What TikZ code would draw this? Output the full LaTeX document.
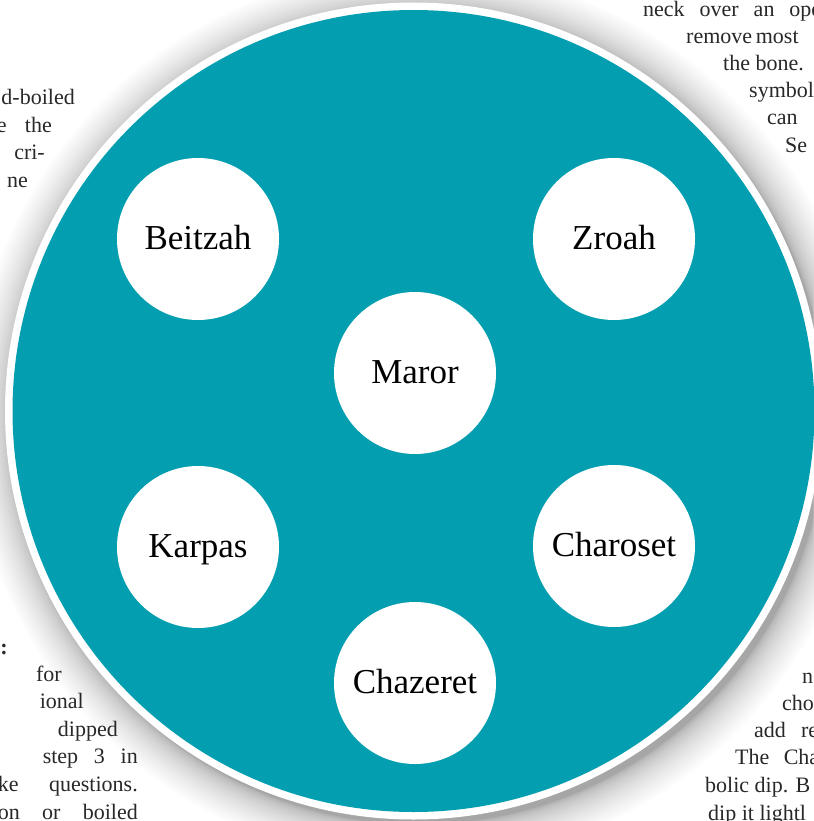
\documentclass[tikz,border=0pt]{standalone}
\usepackage{fontspec}
\setmainfont{Liberation Serif}
\definecolor{plateteal}{RGB}{3,158,175}
\definecolor{ink}{RGB}{40,40,40}
\begin{document}
\begin{tikzpicture}[x=1pt,y=-1pt,
  dish/.style={circle, fill=white, minimum size=162pt, inner sep=0pt},
  lbl/.style={font=\fontsize{35}{40}\selectfont, text=black, inner sep=0pt},
  body/.style={font=\fontsize{22}{26}\selectfont, text=ink, inner sep=0pt},
]
\useasboundingbox[fill=white] (0,0) rectangle (813,821);
% soft shadow around the plate
\foreach \i in {1,...,30}{
  \fill[black, opacity=0.013] (419,417) circle ({407+0.045*\i*\i});
}
% background text, partly hidden by the plate
\node[body, anchor=base east] (l1) at (75,105) {d-boiled};
\node[body, anchor=base east] (l2) at (52,132.5) {\makebox[55pt][s]{e the}};
\node[body, anchor=base east] (l3) at (45,160) {cri-};
\node[body, anchor=base east] (l4) at (28,187.5) {ne};
\node[body, anchor=base east] (b1) at (8,654) {\textbf{:}};
\node[body, anchor=base east] (b2) at (62,681) {for};
\node[body, anchor=base east] (b3) at (84,708) {ional};
\node[body, anchor=base east] (b4) at (118,736) {dipped};
\node[body, anchor=base east] (b5) at (138,763) {\makebox[95pt][s]{step 3 in}};
\node[body, anchor=base east] (b6) at (138,791) {\makebox[140pt][s]{ke questions.}};
\node[body, anchor=base east] (b7) at (138,819) {\makebox[140pt][s]{on or boiled}};
\node[body, anchor=base west] (r1) at (643,17) {\makebox[178pt][s]{neck over an ope}};
\node[body, anchor=base west] (r2) at (686,44) {\makebox[112pt][s]{remove most}};
\node[body, anchor=base west] (r3) at (723,71) {the bone.};
\node[body, anchor=base west] (r4) at (749,98) {symbol};
\node[body, anchor=base west] (r5) at (767,125) {can};
\node[body, anchor=base west] (r6) at (785,153) {Se};
\node[body, anchor=base west] (s1) at (802,683) {n};
\node[body, anchor=base west] (s2) at (782,710) {cho};
\node[body, anchor=base west] (s3) at (754,737) {\makebox[64pt][s]{add re}};
\node[body, anchor=base west] (s4) at (735,764) {\makebox[84pt][s]{The Cha}};
\node[body, anchor=base west] (s5) at (705,792) {bolic dip. B};
\node[body, anchor=base west] (s6) at (708,820) {dip it lightl};
% the plate
\fill[white] (413.5,411) circle (408.5);
\fill[plateteal] (413.5,411) circle (401);
% the six items
\node[dish] (beitzah)  at (198,239) {};
\node[dish] (zroah)    at (614,239) {};
\node[dish] (maror)    at (415,373) {};
\node[dish] (karpas)   at (198,547) {};
\node[dish] (charoset) at (614,546) {};
\node[dish] (chazeret) at (415,683) {};
\node[lbl, anchor=base] at ([yshift=-10pt]beitzah.center)  {Beitzah};
\node[lbl, anchor=base] at ([yshift=-10pt]zroah.center)    {Zroah};
\node[lbl, anchor=base] at ([yshift=-10pt]maror.center)    {Maror};
\node[lbl, anchor=base] at ([yshift=-10pt]karpas.center)   {Karpas};
\node[lbl, anchor=base] at ([yshift=-10pt]charoset.center) {Charoset};
\node[lbl, anchor=base] at ([yshift=-10pt]chazeret.center) {Chazeret};
\end{tikzpicture}
\end{document}
